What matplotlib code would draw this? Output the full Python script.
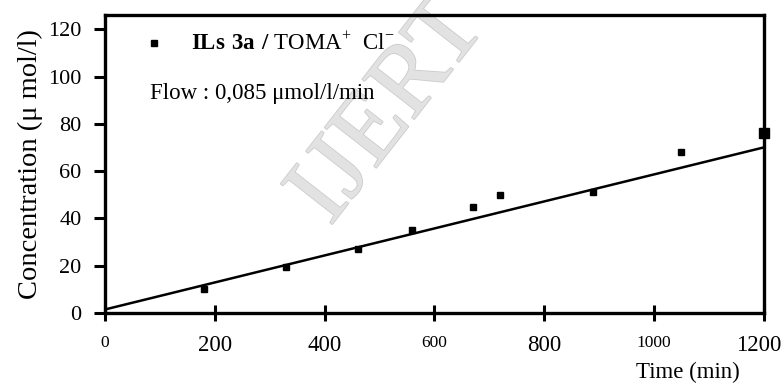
import numpy as np
import matplotlib; matplotlib.use("Agg")
import matplotlib.pyplot as plt
import matplotlib.patheffects as pe

# measured points (Time in min, concentration in umol/l)
time_min = [180, 330, 460, 560, 670, 720, 890, 1050, 1200]
conc = [10, 19.5, 27, 35, 45, 50, 51, 68, 76]
# linear fit drawn on the chart
fit_x = [0, 1200]
fit_y = [1.5, 70]
xticks = [0, 200, 400, 600, 800, 1000, 1200]
yticks = [0, 20, 40, 60, 80, 100, 120]

plt.rcParams['font.family'] = ['Liberation Serif', 'DejaVu Serif']
plt.rcParams['mathtext.fontset'] = 'custom'
plt.rcParams['mathtext.rm'] = 'Liberation Serif'
plt.rcParams['mathtext.bf'] = 'Liberation Serif:bold'

fig = plt.figure(figsize=(7.84, 3.85), dpi=100)
ax = fig.add_axes([0.134, 0.187, 0.840, 0.774])

# watermark, behind the data
ax.text(0.497, 0.71, "IJERT", transform=fig.transFigure, fontsize=72, rotation=52,
        color='#e2e2e2', ha='center', va='center', zorder=1, clip_on=False,
        path_effects=[pe.withStroke(linewidth=1.2, foreground='#cbcbcb')])

ax.plot(fit_x, fit_y, color='black', lw=1.8, zorder=3)
ax.plot(time_min[:-1], conc[:-1], ls='none', marker='s', ms=4.5, color='black', zorder=4)
ax.plot(time_min[-1:], conc[-1:], ls='none', marker='s', ms=6.5, color='black', zorder=4, clip_on=False)

ax.set_xlim(0, 1200)
ax.set_ylim(0, 126)
ax.set_xticks(xticks)
ax.set_yticks(yticks)
# last label is drawn separately so it can sit a little left of its tick
ax.set_xticklabels([str(v) if v != xticks[-1] else "" for v in xticks])
small = {0, 600, 1000}
for lab, v in zip(ax.get_xticklabels(), xticks):
    lab.set_fontsize(12.5 if v in small else 16.5)
ax.annotate(str(xticks[-1]), xy=(xticks[-1], 0), xycoords=('data', 'axes fraction'),
            xytext=(-5, -32), textcoords='offset pixels', ha='center', va='center',
            fontsize=16.5, annotation_clip=False)
ax.tick_params(axis='y', labelsize=16, direction='out', length=8, width=2.2, pad=9)
ax.tick_params(axis='x', direction='inout', length=11, width=2.2, pad=10)
for s in ax.spines.values():
    s.set_linewidth(2.4)

ax.set_ylabel("Concentration (\u03bc mol/l)", fontsize=20.5, labelpad=4)
ax.text(0.885, -0.198, "Time (min)", transform=ax.transAxes, fontsize=16.5,
        ha='center', va='center')

# legend-like annotations
ax.plot([0.074], [0.907], transform=ax.transAxes, marker='s', ms=4.5,
        color='black', ls='none')
ax.text(0.13, 0.905, r"$\mathbf{ILs\ 3a\ /}$ TOMA$^{+}$  Cl$^{-}$", transform=ax.transAxes,
        fontsize=16.5, va='center', ha='left', zorder=5)
ax.text(0.068, 0.735, "Flow : 0,085 \u03bcmol/l/min", transform=ax.transAxes,
        fontsize=16.5, va='center', ha='left', zorder=5)

fig.savefig("out.png", dpi=100)
